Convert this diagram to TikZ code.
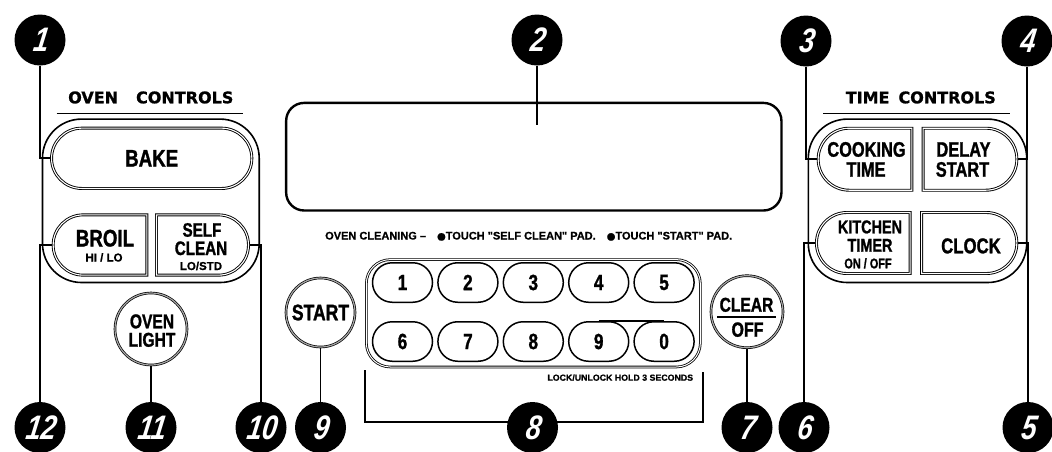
\documentclass[tikz,border=0pt]{standalone}
\usepackage{fontspec}
\usetikzlibrary{shapes.misc,backgrounds}
\newfontfamily\cond{Liberation Sans}[FakeStretch=0.78,FakeBold=1.2]
\newfontfamily\numf{Liberation Sans}[FakeStretch=0.8,FakeSlant=0.15]
\newfontfamily\plainf{Liberation Sans}[FakeBold=0.8]
\newfontfamily\dvf{DejaVu Sans}[FakeBold=1.2]
\newcommand\pfs[1]{\fontsize{#1}{#1}\selectfont}
\begin{document}
\begin{tikzpicture}[x=1pt,y=-1pt,
  callout/.style={circle, fill=black, minimum size=51pt, inner sep=0pt, text=white, font=\numf\bfseries\itshape\pfs{34}},
  leader/.style={line width=1.8pt},
  grp/.style={draw, line width=1.6pt, rounded corners=39pt, inner sep=0pt},
  btn/.style={draw, line width=0.9pt, double=white, double distance=1.1pt, inner sep=0pt, rounded rectangle},
  btnl/.style={btn, rounded rectangle east arc=none},
  btnr/.style={btn, rounded rectangle west arc=none},
  roundpad/.style={circle, draw, line width=0.7pt, double=black!35, double distance=1.2pt, inner sep=0pt},
  numkey/.style={draw, line width=1.5pt, rounded rectangle, minimum width=60pt, minimum height=39.5pt, inner sep=0pt, font=\cond\bfseries\pfs{22}},
  big/.style={font=\cond\bfseries\pfs{#1}, inner sep=0pt, anchor=base},
  small/.style={font=\plainf\bfseries\pfs{#1}, inner sep=0pt, anchor=base},
  head/.style={font=\dvf\bfseries\pfs{16}, inner sep=0pt, anchor=base},
]
\useasboundingbox (0,0) rectangle (1052,451);

% group outlines
\node[grp, minimum width=216.7pt, minimum height=163.4pt] (ovengrp) at (150.85,200.8) {};
\node[grp, minimum width=218.4pt, minimum height=163.4pt] (timegrp) at (917.5,200.8) {};

% headings
\node[head] (hoven) at (150.8,103.3) {OVEN\hspace{18pt}CONTROLS};
\node[head] (htime) at (920.8,103.3) {TIME\hspace{9pt}CONTROLS};
\draw[line width=1.5pt] (56.7,113.3) -- (243.3,113.3);
\draw[line width=1.5pt] (823.3,113.3) -- (1010,113.3);

% display
\node[draw, line width=2.4pt, rounded corners=18pt, minimum width=495.3pt, minimum height=107.6pt, inner sep=0pt] (disp) at (533.8,156.7) {};
\coordinate (d2) at (537,125);

% oven buttons
\node[btn, minimum width=200.3pt, minimum height=60.3pt, font=\cond\bfseries\pfs{24}] (bake) at (151.7,158.3) {BAKE};
\node[btnl, minimum width=93.7pt, minimum height=60.3pt] (broil) at (100,245) {};
\node[big=24] (tbroil) at (105,246.5) {BROIL};
\node[small=11.5] (thilo) at (104,261.5) {HI / LO};
\node[btnr, minimum width=92pt, minimum height=60.3pt] (selfc) at (202.5,245) {};
\node[big=19.5] (tself) at (202,236.7) {SELF};
\node[big=19.5] (tclean) at (201,255) {CLEAN};
\node[small=11.5] (tlostd) at (201,270) {LO/STD};
\node[roundpad, minimum size=72pt] (light) at (151,329) {};
\node[big=20] (toven) at (152,328.3) {OVEN};
\node[big=20] (tlight) at (152,346.7) {LIGHT};

% time buttons
\node[btnl, minimum width=93.7pt, minimum height=62pt] (cook) at (865,159.2) {};
\node[big=21] (tcooking) at (866.5,156.7) {COOKING};
\node[big=21] (ttime) at (866,176.7) {TIME};
\node[btnr, minimum width=93.7pt, minimum height=62pt] (delay) at (970,159.2) {};
\node[big=21] (tdelay) at (963.5,156.7) {DELAY};
\node[big=21] (tdstart) at (962.5,176.7) {START};
\node[btnl, minimum width=93.7pt, minimum height=61pt] (ktimer) at (863.3,243) {};
\node[big=18.5] (tkitchen) at (870,233.3) {KITCHEN};
\node[big=18.5] (ttimer) at (870,251.7) {TIMER};
\node[big=14] (tonoff) at (868,268.3) {ON / OFF};
\node[btnr, minimum width=95.3pt, minimum height=61pt] (clock) at (969.2,243) {};
\node[big=21.5] (tclock) at (971,253.3) {CLOCK};

% start / clear
\node[roundpad, minimum size=69pt, font=\cond\bfseries\pfs{22.5}] (start) at (320.5,312.5) {START};
\node[roundpad, minimum size=72pt] (clear) at (747,311.7) {};
\node[big=20] (tclear) at (746.5,311.7) {CLEAR};
\node[big=20.5] (toff) at (747.5,336.7) {OFF};
\draw[line width=1.6pt] (717,316.7) -- (776,316.7);

% oven cleaning text
\node[small=11, anchor=base west] (tclean2) at (325,239.5) {OVEN CLEANING –\hspace{11pt}{\dvf\pfs{10}●}TOUCH "SELF CLEAN" PAD.\hspace{11pt}{\dvf\pfs{10}●}TOUCH "START" PAD.};

% keypad
\node[draw, line width=0.8pt, double=white, double distance=1pt, rounded corners=24pt, minimum width=334pt, minimum height=107.4pt, inner sep=0pt] (keypad) at (533.35,313.3) {};
\node[numkey] (k1) at (402.5,282.5) {1};
\node[numkey] (k2) at (467.9,282.5) {2};
\node[numkey] (k3) at (533.3,282.5) {3};
\node[numkey] (k4) at (598.7,282.5) {4};
\node[numkey] (k5) at (664.1,282.5) {5};
\node[numkey] (k6) at (402.5,341.5) {6};
\node[numkey] (k7) at (467.9,341.5) {7};
\node[numkey] (k8) at (533.3,341.5) {8};
\node[numkey] (k9) at (598.7,341.5) {9};
\node[numkey] (k0) at (664.1,341.5) {0};
\draw[line width=1.5pt] (k9.north) -- (k0.north);
\node[small=8.8, anchor=base east] (tlock) at (693.3,380.7) {LOCK/UNLOCK HOLD 3 SECONDS};

% callouts
\node[callout] (c1) at (40,40) {1};
\node[callout] (c2) at (537,40) {2};
\node[callout] (c3) at (806,41) {3};
\node[callout] (c4) at (1027,41) {4};
\node[callout] (c5) at (1028,427.5) {5};
\node[callout] (c6) at (804,427.5) {6};
\node[callout] (c7) at (747,427.5) {7};
\node[callout] (c8) at (532.5,427.5) {8};
\node[callout] (c9) at (320.5,427.5) {9};
\node[callout] (c10) at (261,427.5) {10};
\node[callout] (c11) at (151,427.5) {11};
\node[callout] (c12) at (40,427.5) {12};
\coordinate (b8a) at (365,370);
\coordinate (b8m) at (532.5,421.7);
\coordinate (b8b) at (703.3,371.7);

\begin{scope}[on background layer]
\draw[leader] (c1.south) |- (bake.west);
\draw[leader] (c2.south) -- (d2);
\draw[leader] (c3.south) |- (cook.west);
\draw[leader] (c4.south) |- (delay.east);
\draw[leader] (c5.north) |- (clock.east);
\draw[leader] (c6.north) |- (ktimer.west);
\draw[leader] (c7.north) -- (clear.south);
\draw[leader] (b8a) |- (b8m) -| (b8b);
\draw[leader] (c9.north) -- (start.south);
\draw[leader] (c10.north) |- (selfc.east);
\draw[leader] (c11.north) -- (light.south);
\draw[leader] (c12.north) |- (broil.west);
\end{scope}
\end{tikzpicture}
\end{document}
